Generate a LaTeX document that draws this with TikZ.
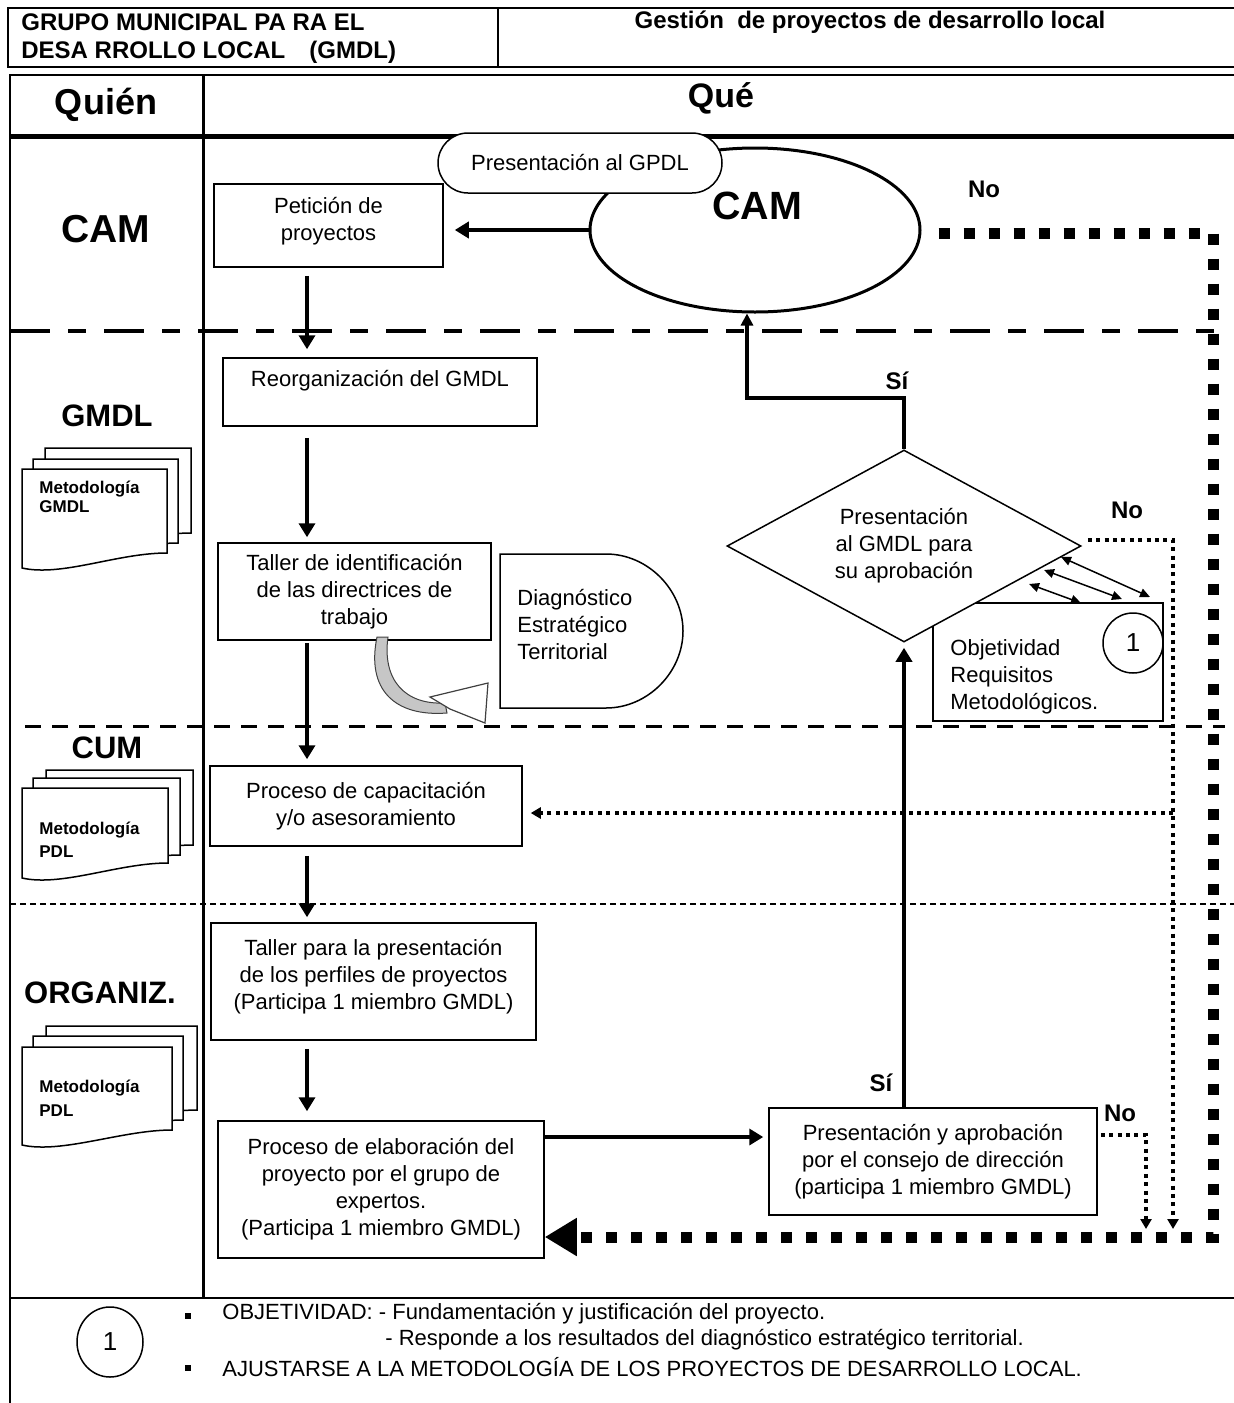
\documentclass[tikz,border=0pt]{standalone}
\usepackage{fontspec}
\setmainfont{Liberation Sans}
\usetikzlibrary{arrows.meta,shapes.geometric}
\newcommand\docpage[4]{%
  \begin{scope}[shift={(#1,#2)}]
    \draw[docpg] (0,0) -- (#3,0) -- (#3,#4) .. controls ({#3-50},#4) and (40,{#4+24}) .. (0,{#4+15}) -- cycle;
  \end{scope}}
\begin{document}
\begin{tikzpicture}[x=0.5pt,y=-0.5pt,font=\fontsize{11}{13.5}\selectfont,
  box/.style={draw, line width=0.75pt, align=center, inner sep=0pt, fill=white},
  arr/.style={line width=2pt, -{Triangle[length=7pt,width=8pt]}},
  bigdot/.style={line width=5.5pt, dash pattern=on 5.5pt off 7pt},
  smdot/.style={line width=2pt, dash pattern=on 2pt off 2.2pt},
  smtip/.style={-{Triangle[length=5pt,width=5.5pt]}},
  lane/.style={font=\bfseries\fontsize{15.5}{18}\selectfont},
  lbl/.style={font=\bfseries\fontsize{12}{14}\selectfont},
  hdr/.style={font=\bfseries\fontsize{12}{14}\selectfont},
  docpg/.style={draw, line width=0.75pt, fill=white},
  doctext/.style={anchor=west, align=left, inner sep=0pt},
  dbl/.style={line width=0.75pt, {Triangle[length=5pt,width=4.5pt]}-{Triangle[length=5pt,width=4.5pt]}}]
\useasboundingbox (0,0) rectangle (1234,1403);

% ---------- header ----------
\draw[line width=0.8pt] (1234,8) -- (8,8) -- (8,67) -- (1234,67);
\draw[line width=0.8pt] (498,8) -- (498,67);
\node[hdr, anchor=west, align=left, inner sep=0pt] (h1) at (21,39) {GRUPO MUNICIPAL PA RA EL\\DESA RROLLO LOCAL\quad (GMDL)};
\node[hdr] (h2) at (870,22) {Gestión\ \ de proyectos de desarrollo local};

% ---------- frame ----------
\draw[line width=0.8pt] (10,1403) -- (10,75) -- (1234,75);
\draw[line width=2.5pt] (10,136) -- (1234,136);
\draw[line width=1.5pt] (203,75) -- (203,1298);
\draw[line width=0.8pt] (10,1298) -- (1234,1298);
\node[font=\bfseries\fontsize{18}{20}\selectfont] (quien) at (106,105) {Quién};
\node[font=\bfseries\fontsize{17}{20}\selectfont] (que) at (721,98) {Qué};

% lane separators
\draw[line width=2pt, dash pattern=on 20pt off 9pt on 9pt off 9pt] (10,331) -- (1225,331);
\draw[line width=1.5pt, dash pattern=on 8pt off 5.5pt] (25,726) -- (1225,726);
\draw[line width=0.6pt, dash pattern=on 3pt off 2pt] (10,904) -- (1234,904);

% lane labels
\node[font=\bfseries\fontsize{19.5}{22}\selectfont] (lcam) at (106,229) {CAM};
\node[lane] (lgmdl) at (107,416) {GMDL};
\node[lane] (lcum) at (107,748) {CUM};
\node[lane] (lorg) at (100,993) {ORGANIZ.};

% document stacks
\docpage{45}{448}{146}{85}
\docpage{33}{459}{145}{84}
\docpage{22}{469}{145}{84}
\node[doctext, font=\bfseries\fontsize{8.5}{9.5}\selectfont] (doc1) at (39,497) {Metodología\\GMDL};
\docpage{46}{770}{147}{75}
\docpage{33}{778}{147}{77}
\docpage{22}{788}{146}{75}
\node[doctext, font=\bfseries\fontsize{8.5}{11.5}\selectfont] (doc2) at (39,840) {Metodología\\PDL};
\docpage{46}{1026}{151}{84}
\docpage{33}{1036}{150}{84}
\docpage{22}{1047}{150}{83}
\node[doctext, font=\bfseries\fontsize{8.5}{12}\selectfont] (doc3) at (39,1098) {Metodología\\PDL};

% ---------- CAM lane ----------
\node[draw, ellipse, line width=1.5pt, minimum width=165pt, minimum height=82pt, inner sep=0pt] (cam) at (755,230) {};
\node[font=\bfseries\fontsize{19.7}{22}\selectfont] (camt) at (757,206) {CAM};
\node[box, minimum width=142pt, minimum height=30pt, rounded corners=15pt] (gpdl) at (580,163) {Presentación al GPDL};
\node[box, minimum width=114.5pt, minimum height=41.5pt] (pet) at (328.5,225.5) {Petición de\\proyectos\\[-6.5pt] \mbox{}};

% ---------- process boxes ----------
\node[box, minimum width=157pt, minimum height=34pt] (reorg) at (380,392) {Reorganización del GMDL\\ \mbox{}};
\node[box, minimum width=136.5pt, minimum height=48.5pt] (tal1) at (354.5,591.5) {Taller de identificación\\de las directrices de\\trabajo};
\node[box, minimum width=156pt, minimum height=40pt] (cap) at (366,806) {Proceso de capacitación\\y/o asesoramiento};
\node[box, minimum width=162.5pt, minimum height=58.5pt] (tal2) at (373.5,981.5) {Taller para la presentación\\de los perfiles de proyectos\\(Participa 1 miembro GMDL)\\[-6pt] \mbox{}};
\node[box, minimum width=163pt, minimum height=68.5pt] (elab) at (381,1189.5) {Proceso de elaboración del\\proyecto por el grupo de\\expertos.\\(Participa 1 miembro GMDL)};
\node[box, minimum width=164pt, minimum height=53.5pt] (aprob) at (933,1161.5) {Presentación y aprobación\\por el consejo de dirección\\(participa 1 miembro GMDL)};

% Diagnostico (delay shape)
\draw[line width=0.75pt] (500,554) -- (606,554) .. controls (648,554) and (683,590) .. (683,631) .. controls (683,672) and (648,708) .. (606,708) -- (500,708) -- cycle;
\node[anchor=west, align=left, inner sep=0pt] (diag) at (517,624) {Diagnóstico\\Estratégico\\Territorial};

% curved block arrow
\filldraw[fill=gray!45, draw=black!75, line width=0.5pt] (377,637) .. controls (366,690) and (395,717) .. (447,713) -- (445,703) .. controls (405,705) and (382,680) .. (388,637) -- cycle;
\filldraw[fill=white, draw=black!75, line width=0.6pt] (430,697) -- (488,683) -- (485,723) -- (450,709) -- cycle;

% Objetividad box, diamond
\node[box, minimum width=115pt, minimum height=59pt] (obj) at (1048,662) {};
\node[draw, diamond, aspect=1.84, minimum width=177pt, minimum height=96pt, inner sep=0pt, fill=white, line width=0.75pt, align=center] (dia) at (904,546) {Presentación\\al GMDL para\\su aprobación};
\node[anchor=west, align=left, inner sep=0pt] (objt) at (950,677) {Objetividad\\Requisitos\\Metodológicos.};
\node[draw, circle, line width=0.75pt, minimum size=30pt, inner sep=0pt, font=\fontsize{13}{15}\selectfont] (one) at (1133,643) {1};

\coordinate (a1s) at (1061,557); \coordinate (a1e) at (1150,597);
\coordinate (a2s) at (1044,570); \coordinate (a2e) at (1122,599);
\coordinate (a3s) at (1029,584); \coordinate (a3e) at (1081,603);
\draw[dbl] (a1s) -- (a1e);
\draw[dbl] (a2s) -- (a2e);
\draw[dbl] (a3s) -- (a3e);

% ---------- solid connectors ----------
\coordinate (xc) at (307,0);
\draw[arr, shorten >=5.5pt] (cam.west) -- (pet.east |- cam.west);
\draw[arr, shorten <=4pt, shorten >=4pt] (pet.south -| xc) -- (reorg.north -| xc);
\draw[arr, shorten <=5.5pt, shorten >=2.5pt] (reorg.south -| xc) -- (tal1.north -| xc);
\draw[arr, shorten <=1pt, shorten >=3pt] (tal1.south -| xc) -- (cap.north -| xc);
\draw[arr, shorten <=4.5pt, shorten >=2.5pt] (cap.south -| xc) -- (tal2.north -| xc);
\draw[arr, shorten <=4pt, shorten >=4.5pt] (tal2.south -| xc) -- (elab.north -| xc);
\coordinate (ya) at (0,1137);
\draw[arr, shorten >=2.5pt] (elab.east |- ya) -- (aprob.west |- ya);
\draw[arr, shorten >=2.5pt] (aprob.north -| dia.south) -- (dia.south);
\coordinate (yb) at (0,398); \coordinate (xb) at (747,0);
\draw[line width=2pt, -{Triangle[length=6pt,width=6pt]}] (dia.north) -- (dia.north |- yb) -| (cam.south -| xb);
\node[lbl] (si1) at (897,381) {Sí};
\node[lbl] (si2) at (881,1083) {Sí};

% ---------- dotted connectors ----------
\coordinate (bigR) at (1213,233); \coordinate (bigB) at (1213,1237);
\draw[bigdot, -{Triangle[length=16pt,width=18pt]}] ([xshift=8.5pt,yshift=-1.5pt]cam.east) -- (bigR) -- (bigB) -- (elab.east |- bigB);
\node[lbl] (no1) at (984,189) {No};

\coordinate (n1) at (1173,540); \coordinate (n1b) at (1173,1229);
\draw[smdot, smtip] ([xshift=3pt,yshift=3pt]dia.east) -- (n1) -- (n1b);
\coordinate (yc) at (0,813);
\draw[smdot, smtip, shorten >=4pt] (n1 |- yc) -- (cap.east |- yc);
\node[lbl] (no2) at (1127,510) {No};

\coordinate (n2) at (1146,1135); \coordinate (n2b) at (1146,1229);
\draw[smdot, smtip] ([xshift=1.5pt]aprob.east |- n2) -- (n2) -- (n2b);
\node[lbl] (no3) at (1120,1113) {No};

% ---------- legend ----------
\node[draw, ellipse, line width=0.75pt, minimum width=33pt, minimum height=35pt, inner sep=0pt, font=\fontsize{13}{15}\selectfont] (leg) at (110,1342) {1};
\node[fill, inner sep=0pt, minimum size=3pt] (b1) at (188,1316) {};
\node[fill, inner sep=0pt, minimum size=3pt] (b2) at (188,1368) {};
\node[anchor=west, inner sep=0pt] (leg1) at (222,1314) {OBJETIVIDAD: - Fundamentación y justificación del proyecto.};
\node[anchor=west, inner sep=0pt] (leg2) at (385,1340) {- Responde a los resultados del diagnóstico estratégico territorial.};
\node[anchor=west, inner sep=0pt] (leg3) at (222,1367) {AJUSTARSE A LA METODOLOGÍA DE LOS PROYECTOS DE DESARROLLO LOCAL.};
\end{tikzpicture}
\end{document}
